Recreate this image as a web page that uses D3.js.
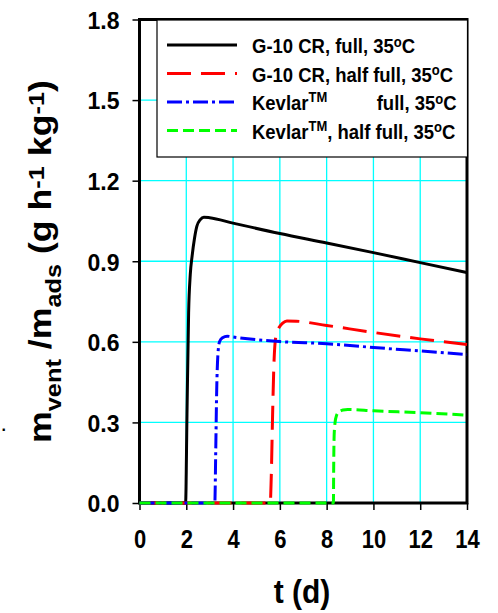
<!DOCTYPE html>
<html><head><meta charset="utf-8">
<script src="https://cdn.jsdelivr.net/npm/d3@7"></script>
<style>
body{margin:0;background:#fff;}
svg{display:block;}
text{font-family:Arial,"Liberation Sans",sans-serif;font-weight:bold;fill:#000;}
</style>
</head><body>
<svg id="c" width="498" height="613"></svg>
<script>
// ---- data ----
const tBlack = [0, 1.97, 2.03, 2.1, 2.17, 2.25, 2.35, 2.45, 2.6, 2.75, 3, 4, 6, 8, 10, 12, 14];
const vBlack = [0, 0, 0.33, 0.71, 0.85, 0.92, 0.985, 1.03, 1.055, 1.064, 1.062, 1.042, 1.003, 0.968, 0.932, 0.895, 0.858];
const tRed = [0, 5.59, 5.63, 5.69, 5.74, 5.8, 5.88, 5.98, 6.12, 6.3, 6.7, 8, 10, 12, 14];
const vRed = [0, 0, 0.09, 0.33, 0.5, 0.6, 0.635, 0.655, 0.67, 0.678, 0.677, 0.661, 0.635, 0.611, 0.59];
const tBlue = [0, 3.22, 3.26, 3.3, 3.35, 3.42, 3.55, 3.75, 4, 6, 8, 10, 12, 14];
const vBlue = [0, 0, 0.2, 0.42, 0.55, 0.6, 0.615, 0.621, 0.618, 0.601, 0.593, 0.579, 0.566, 0.553];
const tGreen = [0, 8.29, 8.3, 8.32, 8.36, 8.42, 8.52, 8.7, 8.9, 10, 12, 14];
const vGreen = [0, 0, 0.12, 0.25, 0.3, 0.325, 0.338, 0.346, 0.348, 0.343, 0.336, 0.327];

const xTicks = [0, 2, 4, 6, 8, 10, 12, 14];
const yTicks = [0, 0.3, 0.6, 0.9, 1.2, 1.5, 1.8];
const yTickLabels = ["0.0", "0.3", "0.6", "0.9", "1.2", "1.5", "1.8"];
const seriesNames = ["G-10 CR, full, 35", "G-10 CR, half full, 35", "Kevlar", "Kevlar"];
const seriesColors = ["#000000", "#ff0000", "#0000ff", "#00ff00"];
const seriesDashes = [null, "24,10", "15,4,3,4", "11,5"];

// ---- layout ----
const svg = d3.select("#c");
const x = d3.scaleLinear().domain([0, 14]).range([139.5, 467]);
const y = d3.scaleLinear().domain([0, 1.8]).range([503, 19.5]);

// grid
const grid = svg.append("g");
grid.selectAll(".gv").data(xTicks.slice(1, -1)).join("line")
  .attr("x1", d => x(d)).attr("x2", d => x(d)).attr("y1", y(0)).attr("y2", y(1.8))
  .attr("stroke", "#00ffff").attr("stroke-width", 1.3);
grid.selectAll(".gh").data(yTicks.slice(1, -1)).join("line")
  .attr("x1", x(0)).attr("x2", x(14)).attr("y1", d => y(d)).attr("y2", d => y(d))
  .attr("stroke", "#00ffff").attr("stroke-width", 1.3);

// axes
const yAxis = svg.append("g").attr("transform", `translate(${x(0)},0)`)
  .call(d3.axisLeft(y).tickValues(yTicks).tickSize(7).tickPadding(13)
    .tickFormat((d, i) => yTickLabels[i]));
yAxis.select(".domain").remove();
yAxis.selectAll("line").attr("stroke", "#000").attr("stroke-width", 1.5);
yAxis.selectAll("text").attr("font-size", 23).attr("font-family", null)
  .attr("x", -20).attr("dy", "0.36em").attr("transform", "scale(1,1.07)");

const xAxis = svg.append("g").attr("transform", `translate(0,${y(0)})`)
  .call(d3.axisBottom(x).tickValues(xTicks).tickSize(7).tickFormat(d3.format("d")));
xAxis.select(".domain").remove();
xAxis.selectAll("line").attr("stroke", "#000").attr("stroke-width", 1.5);
xAxis.selectAll("text").attr("font-size", 22).attr("font-family", null)
  .attr("y", 45 / 1.16).attr("dy", 0).attr("transform", "scale(1,1.16)");

// frame
svg.append("rect").attr("x", x(0)).attr("y", y(1.8))
  .attr("width", x(14) - x(0)).attr("height", y(0) - y(1.8))
  .attr("fill", "none").attr("stroke", "#000").attr("stroke-width", 3);

// lines
const line = d3.line().x(d => x(d[0])).y(d => y(d[1])).curve(d3.curveMonotoneX);
const series = [d3.zip(tBlack, vBlack), d3.zip(tRed, vRed), d3.zip(tBlue, vBlue), d3.zip(tGreen, vGreen)];
series.forEach((s, i) => {
  svg.append("path").datum(s).attr("d", line)
    .attr("fill", "none").attr("stroke", seriesColors[i]).attr("stroke-width", 3)
    .attr("stroke-dasharray", seriesDashes[i]);
});

// legend
const lg = svg.append("g");
lg.append("rect").attr("x", 157).attr("y", 20).attr("width", 310.5).attr("height", 137)
  .attr("fill", "#fff").attr("stroke", "#000").attr("stroke-width", 1.2);
const baselines = [53.3, 81.8, 110.3, 138.8];
seriesColors.forEach((c, i) => {
  lg.append("line").attr("x1", 167).attr("x2", 237)
    .attr("y1", baselines[i] - 8.3).attr("y2", baselines[i] - 8.3)
    .attr("stroke", c).attr("stroke-width", 3).attr("stroke-dasharray", seriesDashes[i]);
});
function legendText(px, i) {
  return lg.append("g").attr("transform", `translate(${px},${baselines[i]}) scale(1,1.13)`)
    .append("text").attr("font-size", 18.5);
}
function degC(t) {
  t.append("tspan").attr("font-size", 13).attr("dy", -6).text("o");
  t.append("tspan").attr("dy", 6).text("C");
}
let t0 = legendText(252, 0); t0.append("tspan").text(seriesNames[0]); degC(t0);
let t1 = legendText(252, 1); t1.append("tspan").text(seriesNames[1]); degC(t1);
let t2 = legendText(252, 2); t2.append("tspan").text(seriesNames[2]);
t2.append("tspan").attr("font-size", 13).attr("dy", -7).text("TM");
let t2b = legendText(376.7, 2); t2b.append("tspan").text("full, 35"); degC(t2b);
let t3 = legendText(252, 3); t3.append("tspan").text(seriesNames[3]);
t3.append("tspan").attr("font-size", 13).attr("dy", -7).text("TM");
t3.append("tspan").attr("dy", 7).text(", half full, 35"); degC(t3);

// axis titles
svg.append("g").attr("transform", "translate(302,603) scale(1,1.13)")
  .append("text").attr("font-size", 30).attr("text-anchor", "middle").text("t (d)");

const yl = svg.append("text").attr("font-size", 31);
yl.append("tspan").text("m");
yl.append("tspan").attr("font-size", 22).attr("dy", 10).text("vent");
yl.append("tspan").attr("dy", -10).text(" /m");
yl.append("tspan").attr("font-size", 22).attr("dy", 10).text("ads");
yl.append("tspan").attr("dy", -10).text(" (g h");
yl.append("tspan").attr("font-size", 22).attr("dy", -7).text("-1");
yl.append("tspan").attr("dy", 7).text(" kg");
yl.append("tspan").attr("font-size", 22).attr("dy", -7).text("-1");
yl.append("tspan").attr("dy", 7).text(")");
const len = yl.node().getComputedTextLength();
const sc = 363 / len;
yl.attr("transform", `translate(51,443) rotate(-90) scale(${sc},1)`);

// stray mark at left edge of the reference
svg.append("text").attr("x", 1.5).attr("y", 431).attr("font-size", 16).text(".");
</script>
</body></html>
